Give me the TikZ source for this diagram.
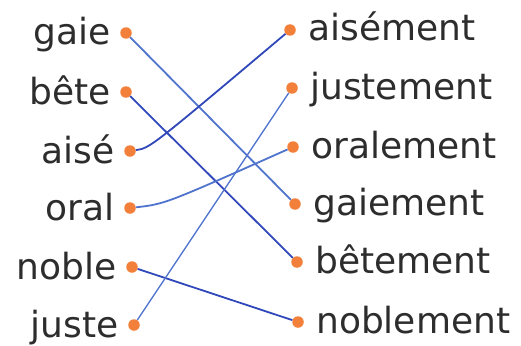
\documentclass[tikz,border=0pt]{standalone}
\usepackage{fontspec}
\setmainfont{DejaVu Sans}
\usetikzlibrary{calc}
\definecolor{dotorange}{RGB}{242,128,58}
\definecolor{linkblue}{RGB}{48,72,185}
\definecolor{linklight}{RGB}{80,115,205}
\definecolor{wordgray}{RGB}{45,45,45}
\tikzset{
    dot/.style={circle, fill=dotorange, inner sep=0pt, minimum size=11.5pt},
    word/.style={text=wordgray, font=\fontsize{36}{36}\selectfont, inner sep=0pt},
    link/.style={linkblue, line width=1.8pt},
}

\begin{document}
\begin{tikzpicture}[x=1pt, y=-1pt]
    \useasboundingbox (0,0) rectangle (521,345);
    % left column
    \foreach \name/\txt/\px/\py in {gaie/gaie/126/33, bete/bête/126/92, aise/aisé/130/151,
                                    oral/oral/130/208, noble/noble/132/267, juste/juste/134/325} {
        \node[dot] (\name) at (\px,\py) {};
        \node[word, anchor=base east] (w-\name) at ($(\name)+(-15,12)$) {\txt};
    }
    % right column
    \foreach \name/\txt/\px/\py in {aisement/aisément/290/30, justement/justement/292/88,
                                    oralement/oralement/293/147, gaiement/gaiement/295/204,
                                    betement/bêtement/297/262, noblement/noblement/298/322} {
        \node[dot] (\name) at (\px,\py) {};
        \node[word, anchor=base west] (w-\name) at ($(\name)+(18,11)$) {\txt};
    }
    % links
    \draw[link, linklight] (gaie) -- (gaiement);
    \draw[link] (bete) -- (betement);
    \draw[link] (aise) .. controls (150,148) .. (aisement);
    \draw[link, linklight] (oral) .. controls (165,204) .. (oralement);
    \draw[link] (noble) -- (noblement);
    \draw[link, linklight, line width=1.3pt] (juste) -- (justement);
\end{tikzpicture}
\end{document}
